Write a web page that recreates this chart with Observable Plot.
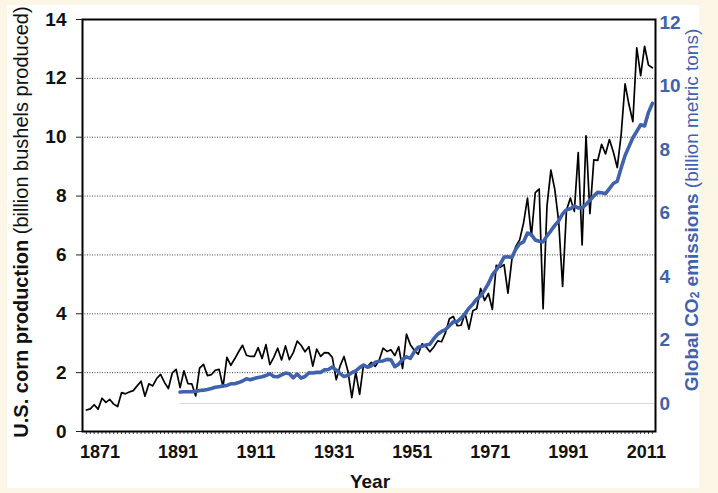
<!DOCTYPE html>
<html><head><meta charset="utf-8">
<script src="https://cdn.jsdelivr.net/npm/d3@7"></script>
<script src="https://cdn.jsdelivr.net/npm/@observablehq/plot@0.6"></script>
<style>
html,body{margin:0;padding:0;background:#fcf6e6;}
#wrap{position:relative;width:718px;height:493px;overflow:hidden}
#panel{position:absolute;left:7px;top:5px;width:692px;height:483px;background:#fff}
#chart{position:absolute;left:0;top:0}
</style></head><body>
<div id="wrap"><div id="panel"></div><div id="chart"></div></div>
<script>
// U.S. corn production, billion bushels, 1866-2011
const cornStartYear = 1866;
const cornValues = [
 0.73,0.77,0.91,0.76,1.13,0.99,1.09,0.93,0.85,1.32,
 1.28,1.34,1.39,1.55,1.71,1.20,1.62,1.55,1.80,1.94,
 1.67,1.46,1.99,2.11,1.49,2.06,1.63,1.62,1.21,2.15,
 2.28,1.90,1.93,2.08,2.11,1.52,2.52,2.25,2.47,2.71,
 2.93,2.59,2.55,2.55,2.85,2.48,2.95,2.27,2.52,2.83,
 2.43,2.91,2.44,2.68,3.07,2.93,2.71,2.88,2.22,2.80,
 2.55,2.68,2.67,2.52,1.76,2.23,2.55,2.05,1.15,2.02,
 1.26,2.27,2.20,2.35,2.21,2.42,2.83,2.72,2.78,2.58,
 2.88,2.14,3.31,2.95,2.76,2.63,2.98,2.88,2.71,2.87,
 3.08,3.05,3.36,3.83,3.91,3.60,3.61,4.02,3.48,4.10,
 4.17,4.86,4.45,4.69,4.15,5.65,5.58,5.67,4.70,5.84,
 6.29,6.51,7.09,7.93,6.64,8.12,8.24,4.17,7.67,8.88,
 8.23,7.13,4.93,7.53,7.93,7.48,9.48,6.34,10.05,7.40,
 9.23,9.21,9.76,9.43,9.92,9.50,8.97,10.09,11.81,11.11,
 10.53,13.04,12.09,13.09,12.45,12.36
];
// Global CO2 emissions, billion metric tons (carbon), 1890-2011
const co2StartYear = 1890;
const co2Values = [
 0.36,0.37,0.37,0.37,0.38,0.41,0.42,0.44,0.47,0.51,
 0.53,0.55,0.57,0.62,0.62,0.66,0.71,0.78,0.75,0.79,
 0.82,0.84,0.88,0.94,0.85,0.84,0.90,0.96,0.94,0.81,
 0.93,0.80,0.85,0.97,0.96,0.98,0.98,1.06,1.07,1.15,
 1.05,0.94,0.85,0.89,0.97,1.03,1.13,1.21,1.14,1.19,
 1.30,1.33,1.34,1.39,1.38,1.16,1.24,1.39,1.47,1.42,
 1.63,1.77,1.80,1.84,1.87,2.04,2.18,2.27,2.33,2.45,
 2.57,2.58,2.69,2.83,3.00,3.13,3.29,3.39,3.57,3.78,
 4.05,4.21,4.38,4.61,4.62,4.60,4.86,5.03,5.09,5.37,
 5.32,5.15,5.11,5.09,5.28,5.44,5.61,5.75,5.97,6.10,
 6.13,6.22,6.16,6.16,6.27,6.40,6.54,6.65,6.64,6.61,
 6.77,6.93,7.00,7.42,7.81,8.09,8.37,8.57,8.78,8.74,
 9.17,9.45
];
const xTickYears = [1871,1891,1911,1931,1951,1971,1991,2011];
const leftTicks = [0,2,4,6,8,10,12,14];
const gridValues = [2,4,6,8,10,12];
const rightTicks = [0,2,4,6,8,10,12];

const corn = cornValues.map((v,i)=>({year: cornStartYear+i, value: v}));
const co2 = co2Values.map((v,i)=>({year: co2StartYear+i, value: v}));
const allYears = d3.range(cornStartYear, cornStartYear + cornValues.length);

// right (CO2) axis expressed on the left scale
const c0 = 28/ (412/14), c1 = 31.75/(412/14);
const conv = v => c0 + c1*v;

const blue = "#4062ac";
const numFont = "'Liberation Sans Narrow','Arial Narrow','Liberation Sans',Arial,sans-serif";
const textFont = "'Liberation Sans',Arial,sans-serif";

const chart = Plot.plot({
  width: 718, height: 493,
  marginLeft: 82, marginRight: 63, marginTop: 19, marginBottom: 62,
  style: {fontFamily: textFont, background: "transparent", overflow: "visible"},
  x: {domain: [1865, 2011.8]},
  y: {domain: [0, 14]},
  marks: [
    Plot.ruleY(gridValues, {stroke: "#444", strokeDasharray: "1,1.5", strokeWidth: 1}),
    Plot.ruleY([conv(0)], {x1: co2StartYear, x2: 2011.8, stroke: "#d8d8d8", strokeWidth: 1}),
    Plot.axisY(leftTicks, {anchor: "left", tickSize: 6, tickPadding: 10, label: null,
      fontFamily: numFont, fontSize: 19, fontWeight: "bold", stroke: "#222", fill: "#111"}),
    Plot.axisY(rightTicks.map(conv), {anchor: "right", tickSize: 0, tickPadding: 4, label: null,
      tickFormat: d => String(Math.round((d - c0)/c1)),
      fontFamily: numFont, fontSize: 19, fontWeight: "bold", fill: blue}),
    Plot.axisX(allYears, {anchor: "bottom", tickSize: 3, tickFormat: () => "", label: null, stroke: "#444"}),
    Plot.axisX(xTickYears, {anchor: "bottom", tickSize: 0, tickPadding: 14, dx: -6, label: null,
      tickFormat: d => String(d), fontFamily: numFont, fontSize: 18, fontWeight: "bold", fill: "#111"}),
    Plot.line(corn, {x: "year", y: "value", stroke: "#000", strokeWidth: 1.7}),
    Plot.line(co2, {x: "year", y: d => conv(d.value), stroke: blue, strokeWidth: 3.6}),
    Plot.frame({stroke: "#000", strokeWidth: 2})
  ]
});
document.getElementById("chart").appendChild(chart);

const svg = d3.select(chart);
// left title
const lt = svg.append("text")
  .attr("transform", "translate(21,222) rotate(-90)")
  .attr("text-anchor", "middle").attr("dominant-baseline", "central")
  .attr("font-family", textFont).attr("font-size", 20).attr("fill", "#111");
lt.append("tspan").attr("font-weight", "bold").text("U.S. corn production ");
lt.append("tspan").text("(billion bushels produced)");
// right title
const rt = svg.append("text")
  .attr("transform", "translate(691,210) rotate(-90)")
  .attr("text-anchor", "middle").attr("dominant-baseline", "central")
  .attr("font-family", textFont).attr("font-size", 19).attr("fill", blue);
rt.append("tspan").attr("font-weight", "bold").text("Global CO");
rt.append("tspan").attr("font-weight", "bold").attr("font-size", 12).attr("dy", 4).text("2");
rt.append("tspan").attr("font-weight", "bold").attr("dy", -4).text(" emissions ");
rt.append("tspan").text("(billion metric tons)");
// x title
svg.append("text").attr("x", 370).attr("y", 488).attr("text-anchor", "middle")
  .attr("font-family", textFont).attr("font-size", 19).attr("font-weight", "bold")
  .attr("fill", "#111").text("Year");
</script>
</body></html>
